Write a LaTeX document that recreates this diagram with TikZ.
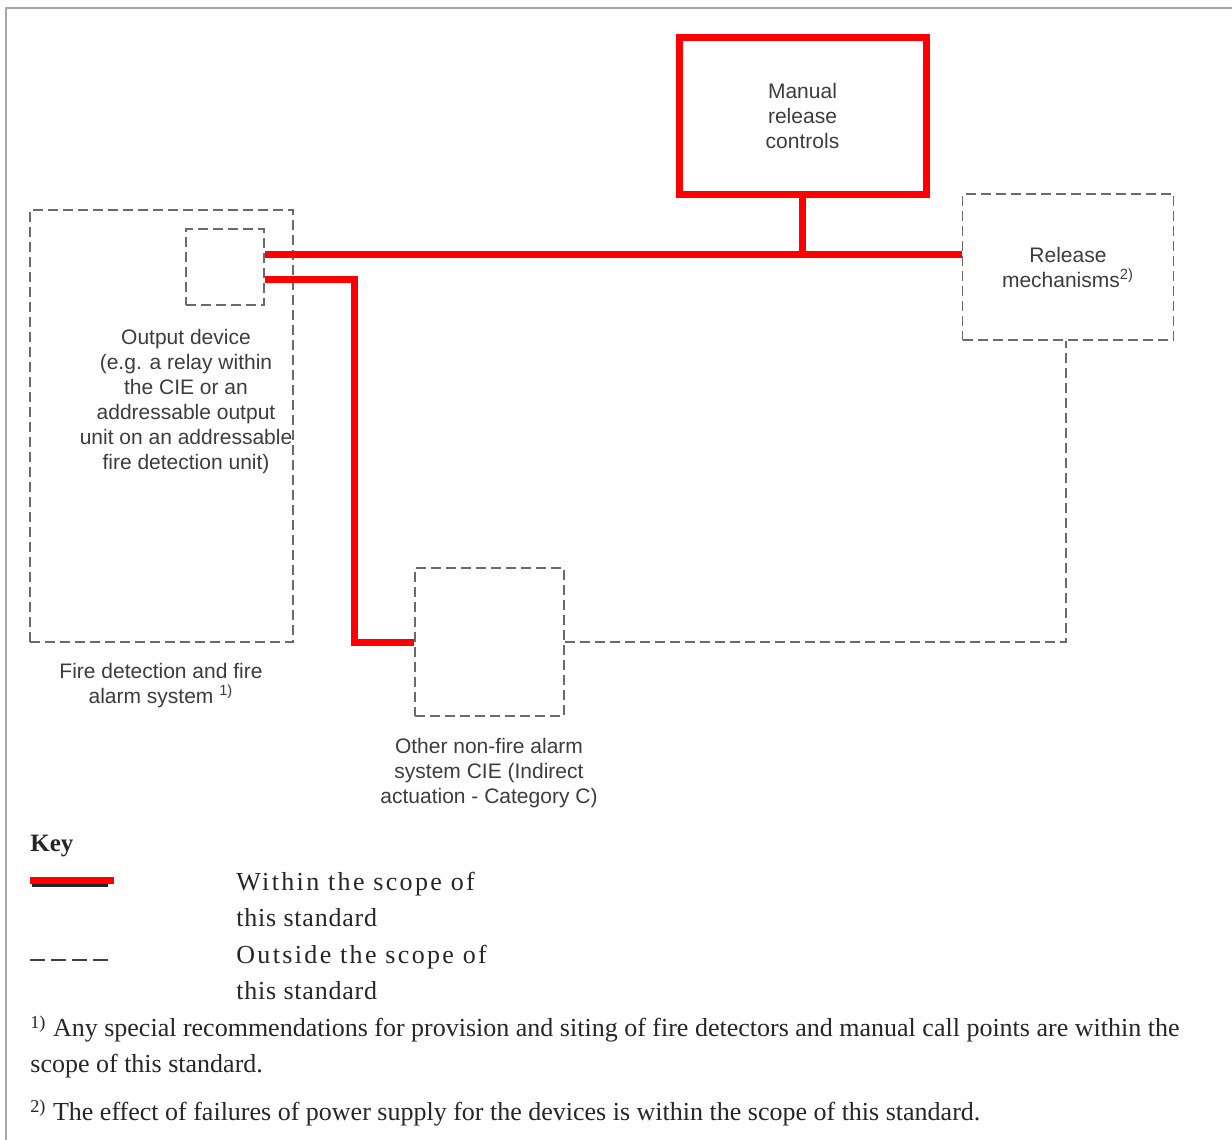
\documentclass[tikz,border=0pt]{standalone}
\usepackage{fontspec}
\setmainfont{Liberation Serif}
\newfontfamily\diagfont{Liberation Sans}
\newfontfamily\keywide[LetterSpace=9]{Liberation Serif}
\newfontfamily\keynarrow[LetterSpace=3]{Liberation Serif}
\definecolor{dashgray}{HTML}{6A6A6A}
\definecolor{diagtext}{HTML}{3C3C3C}
\definecolor{pagetext}{HTML}{262626}

\begin{document}
\begin{tikzpicture}[x=0.5pt, y=-0.5pt,
  inscope/.style={draw=red, line width=3.5pt},
  outscope/.style={draw=dashgray, line width=0.8pt, dash pattern=on 5pt off 2.5pt},
  box/.style={rectangle, inner sep=0pt, align=center, text=diagtext, font=\diagfont\fontsize{10.5pt}{12.5pt}\selectfont},
  lbl/.style={inner sep=0pt, align=center, text=diagtext, font=\diagfont\fontsize{10.5pt}{12.5pt}\selectfont},
  keytext/.style={inner sep=0pt, align=left, anchor=west, text=pagetext, font=\fontsize{13pt}{18pt}\selectfont},
  fntext/.style={inner sep=0pt, align=left, anchor=west, text=pagetext, font=\fontsize{13pt}{18pt}\selectfont}]
\useasboundingbox (0,0) rectangle (1232,1140);
\draw[gray!70, line width=1.2pt] (6,1140) -- (6,8) -- (1232,8);

% boxes
\node[box, inscope, minimum width=123.5pt, minimum height=78.5pt] (manual) at (802.5,115.5) {Manual\\release\\controls};
\node[box, outscope, minimum width=105.5pt, minimum height=73pt] (release) at (1068,267) {Release\\mechanisms\textsuperscript{2)}};
\node[box, outscope, minimum width=131.5pt, minimum height=216pt] (firesys) at (161.5,426) {};
\node[box, outscope, minimum width=39pt, minimum height=38pt] (outdev) at (225,267) {};
\node[box, outscope, minimum width=74.5pt, minimum height=74pt] (other) at (489.5,642) {};

\node[lbl] (outtext) at (186,402) {Output device\\(e.g. a relay within\\the CIE or an\\addressable output\\unit on an addressable\\fire detection unit)};
\node[lbl] (firelbl) at (161,686) {Fire detection and fire\\alarm system \textsuperscript{1)}};
\node[lbl] (otherlbl) at (489,773) {Other non-fire alarm\\system CIE (Indirect\\actuation - Category C)};

% connections
\coordinate (bus) at ([yshift=6.5pt]release.west);
\draw[inscope] ([yshift=6.5pt]outdev.east) -- (bus);
\draw[inscope] (manual.south) -- (manual.south |- bus);
\draw[inscope] ([yshift=-6pt]outdev.east) -- ++(90,0) |- (other.west);
\draw[outscope] (other.east) -| ([xshift=-1pt]release.south);

% key
\node[inner sep=0pt, anchor=base west, text=pagetext, font=\bfseries\fontsize{12.5pt}{14pt}\selectfont] (key) at (30,851) {Key};
\coordinate (inA) at (30,880);
\coordinate (inB) at (114,880);
\draw[black!85, line width=1.5pt] ([xshift=1pt,yshift=-2.5pt]inA) -- ([xshift=-3pt,yshift=-2.5pt]inB);
\draw[inscope] (inA) -- (inB);
\node[keytext] (within) at (236,899) {{\keywide Within the scope of}\\{\keynarrow this standard}};
\coordinate (outA) at (30,960);
\coordinate (outB) at (108,960);
\draw[black!75, line width=0.6pt, dash pattern=on 7.5pt off 3pt] (outA) -- (outB);
\node[keytext] (outside) at (236,972) {{\keywide Outside the scope of}\\{\keynarrow this standard}};

% footnotes
\node[fntext] (fnone) at (30,1047) {\textsuperscript{1)} Any special recommendations for provision and siting of fire detectors and manual call points are within the\\scope of this standard.};
\node[fntext] (fntwo) at (30,1113) {\textsuperscript{2)} The effect of failures of power supply for the devices is within the scope of this standard.};
\end{tikzpicture}
\end{document}
